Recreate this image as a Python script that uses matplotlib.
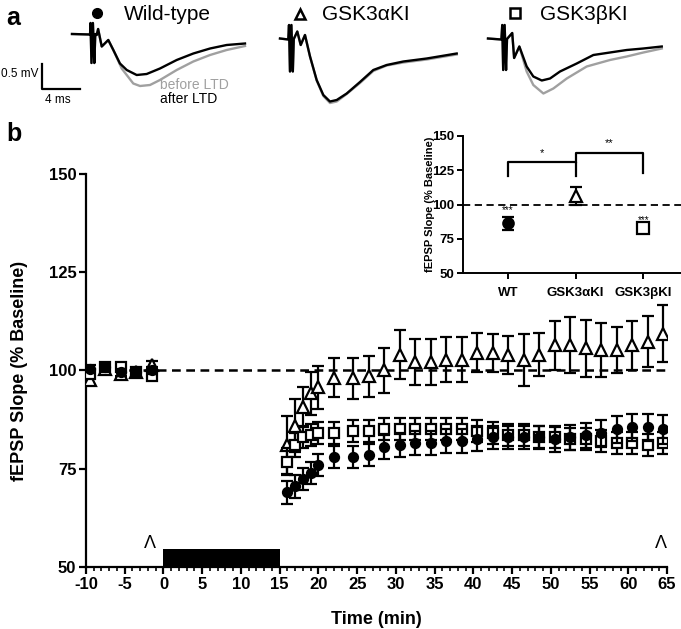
import matplotlib
matplotlib.use("Agg")
import matplotlib.pyplot as plt

plt.rcParams['font.family'] = ['Liberation Sans', 'DejaVu Sans']
plt.rcParams['axes.unicode_minus'] = False

W, H = 681, 629

# ---------------- panel b data (fEPSP slope, % baseline) ----------------
base_t = [-9.5, -7.5, -5.5, -3.5, -1.5]
post_t = [16, 17, 18, 19, 20, 22, 24.5, 26.5, 28.5, 30.5, 32.5, 34.5, 36.5, 38.5,
          40.5, 42.5, 44.5, 46.5, 48.5, 50.5, 52.5, 54.5, 56.5, 58.5, 60.5, 62.5, 64.5]

wt_base = [100.5, 101, 99.5, 99.5, 100]
wt_base_sem = [1, 1, 1, 1, 1]
wt_post = [69, 70.5, 72.5, 74, 76, 78, 78, 78.5, 80.5, 81, 81.5, 81.5, 82, 82,
           82.5, 83, 83, 83, 83, 82.5, 83, 83.5, 84, 85, 85.5, 85.5, 85]
wt_post_sem = [2.9, 2.9, 2.8, 2.8, 2.8, 2.8, 2.8, 2.8, 3, 3, 3, 3, 3, 3,
               3, 3, 3, 3, 3, 3.2, 3.2, 3.2, 3.5, 3.5, 3.5, 3.5, 3.8]

a_base = [97.5, 100.5, 99, 99.5, 101.5]
a_base_sem = [1.2, 1, 1, 1, 1]
a_post = [81, 86, 90.7, 94.2, 95.7, 98.2, 98, 98.5, 100, 104, 102.2, 102.2, 102.7, 102.7,
          104.5, 104.5, 104, 102.6, 104, 106.4, 106.4, 105.6, 105.2, 105.2, 106.4, 107.3, 109.4]
a_post_sem = [7.3, 6.7, 5.2, 5.5, 5.5, 5, 5.3, 5.3, 5.7, 6.2, 5.8, 5.8, 5.7, 5.7,
              5, 4.8, 4.8, 6.6, 5.5, 6.3, 7.1, 7.2, 6.8, 5.8, 6.3, 6.5, 7.3]

b_base = [99, 101, 101, 99.5, 98.5]
b_base_sem = [1, 1, 1, 1, 1]
b_post = [76.8, 81, 83, 83.7, 84, 84, 84.5, 84.5, 85, 85, 85, 85, 85, 85,
          84.5, 84, 83.5, 83.5, 83, 83, 82.5, 82.5, 82, 81.5, 81.5, 81, 81.5]
b_post_sem = [3.5, 3, 2.8, 2.8, 2.8, 2.8, 2.8, 2.8, 2.8, 2.8, 2.8, 2.8, 2.8, 2.8,
              2.8, 2.8, 2.8, 2.8, 2.8, 2.8, 2.8, 2.8, 2.8, 2.8, 2.8, 2.8, 2.8]

# inset: mean of last minutes
inset_groups = ["WT", "GSK3\u03b1KI", "GSK3\u03b2KI"]
inset_mean = [86.4, 106.5, 82.5]
inset_sem = [4.8, 6.5, 1.5]
inset_stars = ["***", "", "***"]

# ---------------- panel a traces (ms, mV) ----------------
wt_t = [0, 1.9, 1.95, 2.05, 2.2, 2.35, 2.45, 2.6, 2.75, 3.13, 3.82, 4.35]
wt_after_t = wt_t + [5.05, 5.76, 6.81, 7.86, 9.26, 11.02, 12.77, 14.53, 16.28, 18.21]
wt_after_v = [0, -0.01, 0.22, -0.58, 0.22, -0.58, 0, -0.02, 0.1, -0.25, -0.12, -0.32,
              -0.59, -0.72, -0.82, -0.8, -0.69, -0.52, -0.39, -0.29, -0.22, -0.19]
wt_before_t = wt_t + [5.23, 6.45, 7.16, 8.21, 9.26, 11.02, 12.77, 14.53, 16.28, 18.21]
wt_before_v = [0, -0.01, 0.22, -0.58, 0.22, -0.58, 0, -0.02, 0.1, -0.25, -0.12, -0.32,
               -0.69, -0.99, -1.04, -1.02, -0.92, -0.72, -0.55, -0.42, -0.32, -0.24]

al_t = [0, 0.87, 0.95, 1.05, 1.2, 1.35, 1.45, 1.82, 2.18, 2.63, 3.16, 3.86, 4.56, 5.26,
        5.97, 7.02, 8.42, 9.82, 11.23, 12.98, 15.44, 18.6]
al_after_v = [0.01, -0.01, 0.28, -0.65, 0.28, -0.65, 0, 0.15, -0.12, 0.08, -0.35, -0.82,
              -1.12, -1.25, -1.22, -1.09, -0.86, -0.62, -0.52, -0.45, -0.39, -0.29]
al_before_v = [0.01, -0.01, 0.28, -0.65, 0.28, -0.65, 0, 0.15, -0.12, 0.08, -0.35, -0.83,
               -1.14, -1.28, -1.25, -1.1, -0.88, -0.64, -0.53, -0.47, -0.41, -0.31]

be_t = [0, 1.41, 1.5, 1.6, 1.75, 1.9, 2.0, 2.55, 2.75, 3.3, 4.07, 4.77, 5.66, 6.53,
        7.58, 9.34, 11.09, 12.84, 14.6, 16.35, 18.29]
be_after_v = [0.01, -0.01, 0.28, -0.62, 0.28, -0.62, 0, 0.12, -0.38, -0.15, -0.55, -0.75,
              -0.83, -0.79, -0.65, -0.49, -0.32, -0.27, -0.22, -0.19, -0.15]
be_before_t = [0, 1.41, 1.5, 1.6, 1.75, 1.9, 2.0, 2.55, 2.75, 3.3, 4.07, 4.77, 5.83, 6.88,
               8.29, 10.39, 12.84, 14.6, 16.35, 18.29]
be_before_v = [0.01, -0.01, 0.28, -0.62, 0.28, -0.62, 0, 0.12, -0.38, -0.15, -0.65, -0.92,
               -1.09, -0.99, -0.79, -0.55, -0.42, -0.35, -0.27, -0.19]


def fx(px):
    return px / W


def fy(py):
    return 1 - py / H


fig = plt.figure(figsize=(W / 100, H / 100), dpi=100)

# ---------------- panel a ----------------
PXMS, PXMV = 9.5, 50.0  # pixels per ms / per mV
ax_a = fig.add_axes([0, fy(120), 1, 120 / H])
ax_a.set_xlim(0, W / PXMS)
ax_a.set_ylim(-120 / PXMV, 0)
ax_a.axis("off")

gray = "#a0a0a0"
traces = [
    (72, 34, wt_before_t, wt_before_v, wt_after_t, wt_after_v),
    (280, 39, al_t, al_before_v, al_t, al_after_v),
    (488, 39, be_before_t, be_before_v, be_t, be_after_v),
]
for x0, y0, tb, vb, ta, va in traces:
    ax_a.plot([x0 / PXMS + t for t in tb], [-y0 / PXMV + v for v in vb],
              color=gray, lw=1.7, solid_joinstyle="round")
    ax_a.plot([x0 / PXMS + t for t in ta], [-y0 / PXMV + v for v in va],
              color="black", lw=1.7, solid_joinstyle="round")

# scale bar
sx, sy = 42 / PXMS, -89 / PXMV
ax_a.plot([sx, sx, sx + 4], [sy + 0.5, sy, sy], color="black", lw=1.6)
fig.text(fx(1), fy(74), "0.5 mV", ha="left", va="center", fontsize=8.5)
fig.text(fx(58), fy(100), "4 ms", ha="center", va="center", fontsize=8.5)
fig.text(fx(160), fy(85), "before LTD", ha="left", va="center", fontsize=10, color=gray)
fig.text(fx(160), fy(99), "after LTD", ha="left", va="center", fontsize=10)

# group headers
ax_a.plot(97 / PXMS, -13 / PXMV, "o", ms=7, color="black")
ax_a.plot(300 / PXMS, -14 / PXMV, "^", ms=6.5, mfc="white", mec="black", mew=1.8)
ax_a.plot(515 / PXMS, -13 / PXMV, "s", ms=6.5, mfc="white", mec="black", mew=1.8)
fig.text(fx(124), fy(15), "Wild-type", fontsize=15, va="center")
fig.text(fx(322), fy(15), "GSK3\u03b1KI", fontsize=15, va="center")
fig.text(fx(540), fy(15), "GSK3\u03b2KI", fontsize=15, va="center")

fig.text(fx(6), fy(18), "a", fontsize=18, fontweight="bold", va="center")
fig.text(fx(6), fy(134), "b", fontsize=18, fontweight="bold", va="center")

# ---------------- panel b main ----------------
ax = fig.add_axes([fx(86), fy(567), fx(667) - fx(86), fy(174) - fy(567)])
ax.set_xlim(-10, 65)
ax.set_ylim(50, 150)
for s in ["top", "right"]:
    ax.spines[s].set_visible(False)
for s in ["left", "bottom"]:
    ax.spines[s].set_linewidth(1.6)

ax.axhline(100, color="black", lw=1.8, ls=(0, (3.5, 2.2)), zorder=1)

eb = dict(ecolor="black", elinewidth=1.6, capsize=4.5, capthick=1.6, ls="none", mec="black", mew=1.6)
ax.errorbar(base_t + post_t, a_base + a_post, yerr=a_base_sem + a_post_sem,
            marker="^", ms=8, mfc="white", zorder=3, **eb)
ax.errorbar(base_t + post_t, b_base + b_post, yerr=b_base_sem + b_post_sem,
            marker="s", ms=7, mfc="white", zorder=4, **eb)
ax.errorbar(base_t + post_t, wt_base + wt_post, yerr=wt_base_sem + wt_post_sem,
            marker="o", ms=6.5, mfc="black", zorder=5, **eb)

# LTD induction bar and sample marks
ax.bar(7.5, 4.5, width=15, bottom=50, color="black", zorder=2)
ax.text(-1.8, 56, "\u039b", ha="center", va="center", fontsize=13)
ax.text(64.2, 56, "\u039b", ha="center", va="center", fontsize=13)

ax.set_xticks(range(-10, 66, 5))
ax.set_xticks(range(-10, 66, 1), minor=True)
ax.set_yticks([50, 75, 100, 125, 150])
ax.tick_params(axis="both", which="major", length=5, width=1.6, labelsize=12, pad=2)
ax.tick_params(axis="x", which="minor", length=3, width=1.2)
for lab in ax.get_xticklabels() + ax.get_yticklabels():
    lab.set_fontweight("bold")
ax.set_xlabel("Time (min)", fontsize=13, fontweight="bold")
ax.set_ylabel("fEPSP Slope (% Baseline)", fontsize=13, fontweight="bold")
ax.xaxis.set_label_coords(0.5, -0.112)
ax.yaxis.set_label_coords(-0.1, 0.5)

# ---------------- inset ----------------
ins = fig.add_axes([fx(463), fy(273), 1 - fx(463), fy(136) - fy(273)])
ins.set_facecolor("none")
ins.set_xlim(-0.667, 2.56)
ins.set_ylim(50, 150)
for s in ["top", "right"]:
    ins.spines[s].set_visible(False)
for s in ["left", "bottom"]:
    ins.spines[s].set_linewidth(1.4)
ins.axhline(100, color="black", lw=1.3, ls=(0, (4, 2.5)), zorder=1)
ins_eb = dict(ecolor="black", elinewidth=1.5, capsize=4, capthick=1.5, ls="none", mec="black", mew=1.6)
ins.errorbar([0], inset_mean[0:1], yerr=inset_sem[0:1], marker="o", ms=7.5, mfc="black", zorder=3, **ins_eb)
ins.errorbar([1], inset_mean[1:2], yerr=inset_sem[1:2], marker="^", ms=9, mfc="white", zorder=3, **ins_eb)
ins.errorbar([2], inset_mean[2:3], yerr=inset_sem[2:3], marker="s", ms=8, mfc="white", zorder=3, **ins_eb)
for i, st in enumerate(inset_stars):
    if st:
        ins.text(i, inset_mean[i] + inset_sem[i] + 1, st, ha="center", va="bottom", fontsize=7)
# significance brackets
ins.plot([0, 0, 1, 1], [121, 131, 131, 121], color="black", lw=1.6)
ins.plot([1, 1, 2, 2], [131, 137.5, 137.5, 123], color="black", lw=1.6)
ins.text(0.5, 134, "*", ha="center", va="bottom", fontsize=8)
ins.text(1.5, 141, "**", ha="center", va="bottom", fontsize=8)

ins.set_xticks([0, 1, 2])
ins.set_xticklabels(inset_groups)
ins.set_yticks([50, 75, 100, 125, 150])
ins.tick_params(axis="both", length=4, width=1.4, labelsize=9.5, pad=2)
for lab in ins.get_xticklabels() + ins.get_yticklabels():
    lab.set_fontweight("bold")
ins.xaxis.set_tick_params(pad=6)
ins.set_ylabel("fEPSP Slope (% Baseline)", fontsize=8, fontweight="bold")
ins.yaxis.set_label_coords(-0.13, 0.5)

fig.savefig("out.png", dpi=100)
